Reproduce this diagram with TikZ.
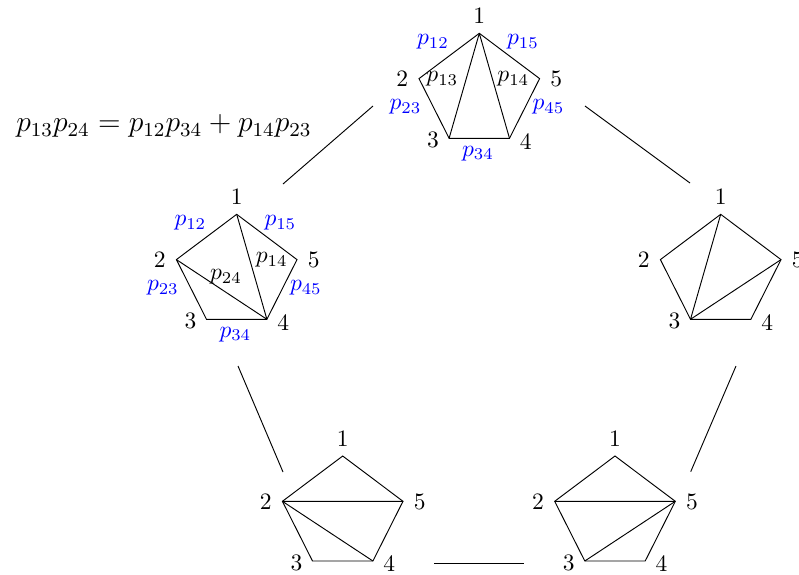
\documentclass[tikz,border=0pt]{standalone}
\begin{document}
\begin{tikzpicture}[x=0.4255pt,y=-0.4255pt,
  vlab/.style={inner sep=0pt},
  plab/.style={inner sep=0pt,text=blue},
  dlab/.style={inner sep=0pt},
  link/.style={line width=0.4pt},
  pent/.pic={
    \coordinate (-1) at (0,0);
    \coordinate (-2) at (-60.3,45.3);
    \coordinate (-3) at (-30.2,105);
    \coordinate (-4) at (30.2,105);
    \coordinate (-5) at (60.3,45.3);
    \draw (-1) -- (-2) -- (-3) -- (-4) -- (-5) -- cycle;
    \node[vlab] (-n1) at (0,-17.5) {1};
    \node[vlab] (-n2) at (-77,45.7) {2};
    \node[vlab] (-n3) at (-46.3,107) {3};
    \node[vlab] (-n4) at (46.5,108) {4};
    \node[vlab] (-n5) at (77,45.7) {5};
  },
  blues/.pic={
    \node[plab] (-p12) at (-46.3,8.7) {$p_{12}$};
    \node[plab] (-p15) at (43.7,8.7) {$p_{15}$};
    \node[plab] (-p23) at (-73.8,73.7) {$p_{23}$};
    \node[plab] (-p45) at (69.2,73.7) {$p_{45}$};
    \node[plab] (-p34) at (-1.3,120) {$p_{34}$};
  }]
\useasboundingbox (0,0) rectangle (799,574);

% equation
\node[inner sep=0pt,scale=1.05] (eq) at (164,126) {\large $p_{13}p_{24}=p_{12}p_{34}+p_{14}p_{23}$};

% top
\pic (T) at (479.3,33.3) {pent};
\pic (Tb) at (479.3,33.3) {blues};
\draw (T-1) -- (T-3) (T-1) -- (T-4);
\node[dlab] (T13) at (442.3,79) {$p_{13}$};
\node[dlab] (T14) at (513.3,79) {$p_{14}$};

% left
\pic (L) at (236.7,214.3) {pent};
\pic (Lb) at (236.7,214.3) {blues};
\draw (L-1) -- (L-4) (L-2) -- (L-4);
\node[dlab] (L14) at (271.7,260) {$p_{14}$};
\node[dlab] (L24) at (226,276.7) {$p_{24}$};

% right
\pic (R) at (720.7,214.3) {pent};
\draw (R-1) -- (R-3) (R-3) -- (R-5);

% bottom left
\pic (BL) at (342.7,456) {pent};
\draw (BL-2) -- (BL-5) (BL-2) -- (BL-4);

% bottom right
\pic (BR) at (615,456) {pent};
\draw (BR-2) -- (BR-5) (BR-3) -- (BR-5);

% connectors
\coordinate (tl1) at (373,106); \coordinate (tl2) at (283,184);
\coordinate (tr1) at (585,106); \coordinate (tr2) at (690,183);
\coordinate (lb1) at (238,366); \coordinate (lb2) at (283,472);
\coordinate (rb1) at (736,366); \coordinate (rb2) at (690.7,471.7);
\coordinate (bb1) at (434,563); \coordinate (bb2) at (524,563);
\draw[link] (tl1) -- (tl2);
\draw[link] (tr1) -- (tr2);
\draw[link] (lb1) -- (lb2);
\draw[link] (rb1) -- (rb2);
\draw[link] (bb1) -- (bb2);
\end{tikzpicture}
\end{document}
